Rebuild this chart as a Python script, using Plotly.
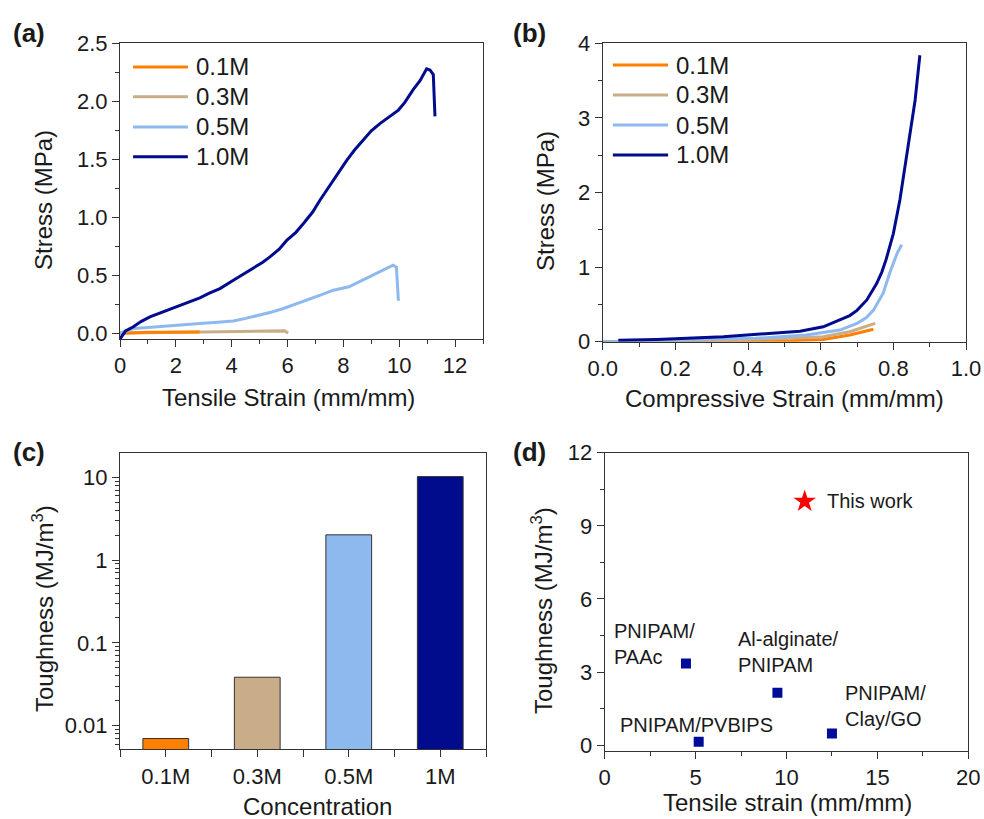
import plotly.graph_objects as go

# ---------------- data ----------------
series_names = ["0.1M", "0.3M", "0.5M", "1.0M"]
series_colors = ["#FF8000", "#C8AD88", "#8DB9EE", "#000C8C"]

# (a) tensile stress-strain
ten_01_x = [0.0, 0.5, 1.0, 1.5, 2.0, 2.5, 2.85]
ten_01_y = [0.0, 0.006, 0.008, 0.009, 0.010, 0.010, 0.011]
ten_03_x = [0.0, 1.0, 2.0, 3.0, 4.0, 4.65, 5.2, 5.9, 6.02]
ten_03_y = [0.0, 0.006, 0.009, 0.011, 0.013, 0.02, 0.021, 0.02, 0.0]
ten_05_x = [0.0, 0.48, 1.0, 1.67, 2.3, 2.86, 3.5, 4.06, 4.5, 5.0, 5.4, 5.85, 6.3, 6.68, 7.2, 7.64, 8.2, 8.8,
            9.4, 9.78, 9.9, 9.93, 9.97]
ten_05_y = [0.0, 0.04, 0.05, 0.06, 0.072, 0.083, 0.095, 0.106, 0.128, 0.155, 0.18, 0.213, 0.25, 0.285, 0.33,
            0.371, 0.40, 0.47, 0.54, 0.586, 0.57, 0.45, 0.28]
ten_10_x = [0.0, 0.2, 0.48, 0.75, 1.07, 1.5, 2.03, 2.45, 2.86, 3.2, 3.58, 4.06, 4.4, 4.77, 5.1, 5.37, 5.7,
            5.97, 6.3, 6.57, 6.9, 7.16, 7.4, 7.64, 7.9, 8.12, 8.4, 8.72, 9.0, 9.32, 9.6, 9.97, 10.2, 10.5,
            10.75, 10.98, 11.1, 11.22, 11.25, 11.28]
ten_10_y = [-0.05, 0.02, 0.055, 0.1, 0.14, 0.18, 0.227, 0.265, 0.305, 0.345, 0.385, 0.457, 0.505, 0.558,
            0.61, 0.658, 0.725, 0.80, 0.87, 0.946, 1.045, 1.147, 1.235, 1.32, 1.41, 1.49, 1.58, 1.665, 1.745,
            1.81, 1.86, 1.924, 1.99, 2.10, 2.18, 2.28, 2.27, 2.23, 2.05, 1.87]

# (b) compressive stress-strain
com_01_x = [0.0, 0.3, 0.516, 0.607, 0.68, 0.717, 0.745]
com_01_y = [0.0, 0.005, 0.013, 0.03, 0.09, 0.134, 0.166]
com_03_x = [0.0, 0.24, 0.516, 0.607, 0.68, 0.727, 0.75]
com_03_y = [0.0, 0.013, 0.045, 0.067, 0.134, 0.21, 0.245]
com_05_x = [0.0, 0.19, 0.42, 0.56, 0.653, 0.70, 0.725, 0.745, 0.772, 0.79, 0.81, 0.823]
com_05_y = [0.0, 0.02, 0.045, 0.09, 0.156, 0.246, 0.32, 0.42, 0.65, 0.92, 1.18, 1.30]
com_10_x = [0.043, 0.149, 0.332, 0.47, 0.543, 0.607, 0.653, 0.68, 0.70, 0.727, 0.754, 0.768, 0.78, 0.80,
            0.818, 0.832, 0.846, 0.86, 0.873]
com_10_y = [0.02, 0.03, 0.067, 0.11, 0.14, 0.2, 0.29, 0.35, 0.42, 0.56, 0.78, 0.93, 1.1, 1.45,
            1.9, 2.35, 2.79, 3.24, 3.84]

# (c) toughness bars
bar_categories = ["0.1M", "0.3M", "0.5M", "1M"]
bar_values = [0.0070, 0.0385, 2.02, 10.2]

# (d) comparison
cmp_names = ["PNIPAM/<br>PAAc", "Al-alginate/<br>PNIPAM", "PNIPAM/PVBIPS", "PNIPAM/<br>Clay/GO"]
cmp_strain = [4.47, 9.5, 5.17, 12.5]
cmp_tough = [3.35, 2.15, 0.14, 0.48]
this_strain = [11.0]
this_tough = [10.0]

# ---------------- figure ----------------
FONT = "Arial, Liberation Sans, sans-serif"
TXT = "#1a1a1a"
fig = go.Figure()

ten = [(ten_01_x, ten_01_y), (ten_03_x, ten_03_y), (ten_05_x, ten_05_y), (ten_10_x, ten_10_y)]
com = [(com_01_x, com_01_y), (com_03_x, com_03_y), (com_05_x, com_05_y), (com_10_x, com_10_y)]
order = [1, 0, 2, 3]  # tan under orange
for i in order:
    fig.add_trace(go.Scatter(x=ten[i][0], y=ten[i][1], mode="lines", name=series_names[i],
                             line=dict(color=series_colors[i], width=3), showlegend=False,
                             xaxis="x", yaxis="y"))
for i in [0, 1, 2, 3]:
    fig.add_trace(go.Scatter(x=com[i][0], y=com[i][1], mode="lines", name=series_names[i],
                             line=dict(color=series_colors[i], width=3), showlegend=False,
                             xaxis="x2", yaxis="y2"))

bar_colors = ["#FF8000", "#C8AD88", "#8DB9EE", "#000C8C"]
fig.add_trace(go.Bar(x=list(range(len(bar_categories))), y=bar_values, width=0.5,
                     marker=dict(color=bar_colors, line=dict(color="#333333", width=1)),
                     showlegend=False, xaxis="x3", yaxis="y3"))

fig.add_trace(go.Scatter(x=cmp_strain, y=cmp_tough, mode="markers",
                         marker=dict(symbol="square", size=10, color="#000C99"),
                         showlegend=False, xaxis="x4", yaxis="y4"))
fig.add_trace(go.Scatter(x=this_strain, y=this_tough, mode="markers",
                         marker=dict(symbol="star", size=17, color="#FF0000", line=dict(width=0)),
                         showlegend=False, xaxis="x4", yaxis="y4"))

tickfont = dict(family=FONT, size=22, color=TXT)
AXC = "#333333"


def ax(domain, rng, dtick, minor_dtick, fmt=None, anchor=None, **kw):
    d = dict(domain=domain, range=rng, dtick=dtick, tick0=0, showline=True, linecolor=AXC,
             linewidth=1, mirror=True, ticks="outside", ticklen=7, tickwidth=1, tickcolor=AXC,
             showgrid=False, zeroline=False, tickfont=tickfont, anchor=anchor, automargin=False,
             minor=dict(dtick=minor_dtick, tick0=0, ticks="outside", ticklen=4, tickcolor=AXC,
                        showgrid=False))
    if fmt:
        d["tickformat"] = fmt
    d.update(kw)
    return d


W, H = 984, 819
ya_a = [1 - 339 / H, 1 - 43.3 / H]
ya_b = [1 - 341.7 / H, 1 - 43.3 / H]
ya_c = [1 - 749.3 / H, 1 - 453.3 / H]
ya_d = [1 - 750.7 / H, 1 - 452.7 / H]

minor_log = [v * m for v in [0.001, 0.01, 0.1, 1, 10] for m in range(2, 10)]

fig.update_layout(
    template="none",
    width=W, height=H, margin=dict(l=0, r=0, t=0, b=0, pad=0, autoexpand=False),
    paper_bgcolor="white", plot_bgcolor="white",
    xaxis=ax([120 / W, 483 / W], [0, 13], 2, 1, anchor="y"),
    yaxis=ax(ya_a, [-0.05, 2.5], 0.5, 0.25, ".1f", anchor="x"),
    xaxis2=ax([602.7 / W, 966 / W], [0, 1.0], 0.2, 0.1, ".1f", anchor="y2"),
    yaxis2=ax(ya_b, [0, 4], 1, 0.5, anchor="x2"),
    xaxis3=dict(domain=[120 / W, 486 / W], range=[-0.5, 3.5], tickmode="array",
                tickvals=list(range(len(bar_categories))), ticktext=bar_categories,
                showline=True, linecolor=AXC, linewidth=1, mirror=True, ticks="outside",
                ticklen=7, tickcolor=AXC, showgrid=False, zeroline=False, tickfont=tickfont,
                anchor="y3", automargin=False,
                minor=dict(tickmode="array", tickvals=[-0.5, 0.5, 1.5, 2.5, 3.5], ticks="outside",
                           ticklen=7, tickcolor=AXC, showgrid=False)),
    yaxis3=dict(domain=ya_c, type="log", range=[-2.285, 1.29], tickmode="array",
                tickvals=[0.01, 0.1, 1, 10], ticktext=["0.01", "0.1", "1", "10"],
                showline=True, linecolor=AXC, linewidth=1, mirror=True, ticks="outside",
                ticklen=7, tickcolor=AXC, showgrid=False, zeroline=False, tickfont=tickfont,
                anchor="x3", automargin=False,
                minor=dict(tickmode="array", tickvals=minor_log, ticks="outside", ticklen=4,
                           tickcolor=AXC, showgrid=False)),
    xaxis4=ax([604.7 / W, 968.3 / W], [0, 20], 5, 2.5, anchor="y4"),
    yaxis4=ax(ya_d, [-0.23, 12], 3, 1.5, anchor="x4"),
)

ann = []
shapes = []


def text(x, y, s, size=24, angle=0, bold=False, xanchor="center", xref="paper", yref="paper"):
    ann.append(dict(x=x, y=y, xref=xref, yref=yref, text=("<b>%s</b>" % s) if bold else s,
                    showarrow=False, textangle=angle, xanchor=xanchor, yanchor="middle",
                    align="left" if xanchor == "left" else "center",
                    font=dict(family=FONT, size=size, color=TXT)))


# panel labels
text(29 / W, 1 - 33 / H, "(a)", 26, bold=True)
text(529 / W, 1 - 33 / H, "(b)", 26, bold=True)
text(29 / W, 1 - 451.7 / H, "(c)", 26, bold=True)
text(529 / W, 1 - 451.7 / H, "(d)", 26, bold=True)

# axis titles
text(288 / W, 1 - 397 / H, "Tensile Strain (mm/mm)")
text(43 / W, 1 - 200 / H, "Stress (MPa)", angle=-90)
text(784 / W, 1 - 398 / H, "Compressive Strain (mm/mm)")
text(545 / W, 1 - 201 / H, "Stress (MPa)", angle=-90)
text(317 / W, 1 - 806 / H, "Concentration")
text(43 / W, 1 - 609 / H, "Toughness (MJ/m<sup>3</sup>)", angle=-90)
text(787 / W, 1 - 802 / H, "Tensile strain (mm/mm)")
text(542 / W, 1 - 611 / H, "Toughness (MJ/m<sup>3</sup>)", angle=-90)

# custom legends
leg_rows_a = [0.92, 0.819, 0.717, 0.616]
leg_rows_b = [0.927, 0.827, 0.726, 0.626]
for i, nm in enumerate(series_names):
    shapes.append(dict(type="line", xref="x domain", yref="y domain", x0=0.036, x1=0.187,
                       y0=leg_rows_a[i], y1=leg_rows_a[i], line=dict(color=series_colors[i], width=3)))
    text(0.203, leg_rows_a[i], nm, 24, xanchor="left", xref="x domain", yref="y domain")
    shapes.append(dict(type="line", xref="x2 domain", yref="y2 domain", x0=0.028, x1=0.180,
                       y0=leg_rows_b[i], y1=leg_rows_b[i], line=dict(color=series_colors[i], width=3)))
    text(0.196, leg_rows_b[i], nm, 24, xanchor="left", xref="x2 domain", yref="y2 domain")

# (d) labels
lab_x = [0.4, 7.2, 0.72, 13.1]
lab_y = [4.15, 3.82, 0.82, 1.62]
for nm, lx, ly in zip(cmp_names, lab_x, lab_y):
    text(lx, ly, nm, 20, xanchor="left", xref="x4", yref="y4")
text(12.1, 10.0, "This work", 20, xanchor="left", xref="x4", yref="y4")

fig.update_layout(annotations=ann, shapes=shapes)
fig.write_html("out.html")
